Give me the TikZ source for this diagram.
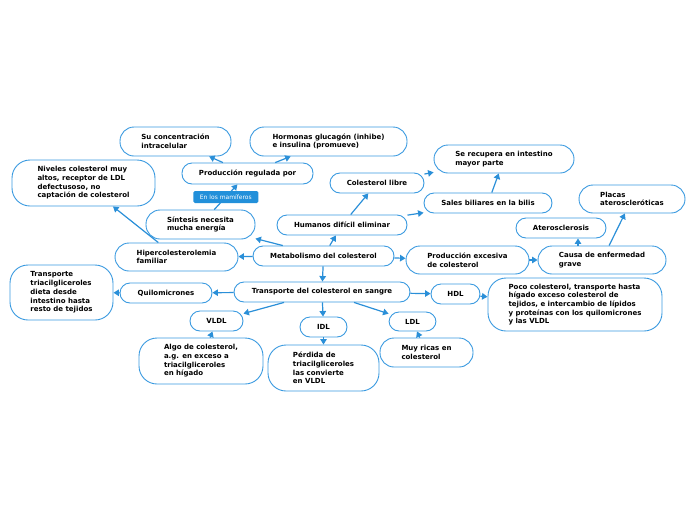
\documentclass[tikz,border=0pt]{standalone}
\usepackage{fontspec}
\setmainfont{DejaVu Sans}
\usetikzlibrary{arrows.meta}
\definecolor{bord}{HTML}{3A9AE0}
\definecolor{arrc}{HTML}{2A8FD8}
\definecolor{labc}{HTML}{2290DA}
\tikzset{
 box/.style={draw=bord, line width=0.9pt, fill=white, rounded corners=10pt, inner sep=0pt, align=left,
   font=\fontsize{7}{8.7}\selectfont\bfseries, text=black},
 midbox/.style={box, rounded corners=14pt},
 bigbox/.style={box, rounded corners=18pt},
 conn/.style={draw=arrc, line width=1.2pt, -{Triangle[length=5.5pt,width=6.5pt]}},
 tag/.style={fill=labc, rounded corners=1.5pt, text=white, font=\fontsize{6}{6}\selectfont,
   inner sep=0pt, minimum width=65pt, minimum height=12pt}
}
\begin{document}
\begin{tikzpicture}[x=1pt,y=-1pt]
\useasboundingbox (0,0) rectangle (696,520);
% nodes
\node[midbox, minimum width=111pt, minimum height=29pt] (su) at (175.5,141.5) {Su concentración\\intracelular};
\node[midbox, minimum width=157pt, minimum height=29pt] (horm) at (328.5,141.5) {Hormonas glucagón (inhibe)\\e insulina (promueve)};
\node[box, minimum width=131pt, minimum height=21pt] (prod) at (247.5,173.5) {Producción regulada por};
\node[bigbox, minimum width=143pt, minimum height=46pt] (niv) at (83.5,183) {Niveles colesterol muy\\altos, receptor de LDL\\defectusoso, no\\captación de colesterol};
\node[midbox, minimum width=109pt, minimum height=29pt] (sint) at (200.5,224.5) {Síntesis necesita\\mucha energía};
\node[box, minimum width=94pt, minimum height=20pt] (libre) at (377,183) {Colesterol libre};
\node[midbox, minimum width=140pt, minimum height=28pt] (recup) at (504,159) {Se recupera en intestino\\mayor parte};
\node[box, minimum width=128pt, minimum height=20pt] (sales) at (488,203) {Sales biliares en la bilis};
\node[box, minimum width=130pt, minimum height=20pt] (hum) at (342,225) {Humanos difícil eliminar};
\node[midbox, minimum width=123pt, minimum height=28pt] (hiper) at (176.5,257) {Hipercolesterolemia\\familiar};
\node[box, minimum width=141pt, minimum height=20pt] (metab) at (323.5,256) {Metabolismo del colesterol};
\node[midbox, minimum width=123pt, minimum height=28pt] (exc) at (467.5,260) {Producción excesiva\\de colesterol};
\node[midbox, minimum width=128pt, minimum height=28pt] (causa) at (602,260) {Causa de enfermedad\\grave};
\node[box, minimum width=90pt, minimum height=20pt] (ater) at (561,228) {Aterosclerosis};
\node[midbox, minimum width=106pt, minimum height=28pt] (plac) at (632,199) {Placas\\ateroscleróticas};
\node[bigbox, minimum width=103pt, minimum height=55pt] (trig) at (61.5,292.5) {Transporte\\triacilgliceroles\\dieta desde\\intestino hasta\\resto de tejidos};
\node[box, minimum width=92pt, minimum height=20pt] (quil) at (166,293) {Quilomicrones};
\node[box, minimum width=176pt, minimum height=20pt] (sang) at (322,292) {Transporte del colesterol en sangre};
\node[box, minimum width=49pt, minimum height=20pt] (hdl) at (455.5,294) {HDL};
\node[bigbox, minimum width=174pt, minimum height=53pt] (poco) at (575,304.5) {Poco colesterol, transporte hasta\\hígado exceso colesterol de\\tejidos, e intercambio de lípidos\\y proteínas con los quilomicrones\\y las VLDL};
\node[box, minimum width=53pt, minimum height=20pt] (vldl) at (216.5,321) {VLDL};
\node[box, minimum width=47pt, minimum height=20pt] (idl) at (323.5,327) {IDL};
\node[box, minimum width=47pt, minimum height=19pt] (ldl) at (412.5,321.5) {LDL};
\node[bigbox, minimum width=124pt, minimum height=46pt] (algo) at (201,361) {Algo de colesterol,\\a.g. en exceso a\\triacilgliceroles\\en hígado};
\node[bigbox, minimum width=111pt, minimum height=46pt] (perd) at (323.5,368) {Pérdida de\\triacilgliceroles\\las convierte\\en VLDL};
\node[midbox, minimum width=93pt, minimum height=29pt] (muy) at (426.5,352.5) {Muy ricas en\\colesterol};
% connectors
\draw[conn] (prod) -- (su);
\draw[conn] (prod) -- (horm);
\draw[conn] (sint) -- node[tag, pos=0.5] {En los mamíferos} (prod);
\draw[conn] (hiper) -- (niv);
\draw[conn] (metab) -- (sint);
\draw[conn] (metab) -- (hiper);
\draw[conn] (metab) -- (hum);
\draw[conn] (metab) -- (exc);
\draw[conn] (metab) -- (sang);
\draw[conn] (hum) -- (libre);
\draw[conn] (hum) -- (sales);
\draw[conn] (libre) -- (recup);
\draw[conn] (sales) -- (recup);
\draw[conn] (exc) -- (causa);
\draw[conn] ([xshift=-24pt]causa.north) -- ([xshift=17pt]ater.south);
\draw[conn] (causa) -- (plac);
\draw[conn] (sang) -- (quil);
\draw[conn] (quil) -- (trig);
\draw[conn] (sang) -- (hdl);
\draw[conn] (hdl) -- (poco);
\draw[conn] (sang) -- (vldl);
\draw[conn] (sang) -- (idl);
\draw[conn] (sang) -- (ldl);
\draw[conn] (algo) -- (vldl);
\draw[conn] (idl) -- (perd);
\draw[conn] (muy) -- (ldl);
\end{tikzpicture}
\end{document}
